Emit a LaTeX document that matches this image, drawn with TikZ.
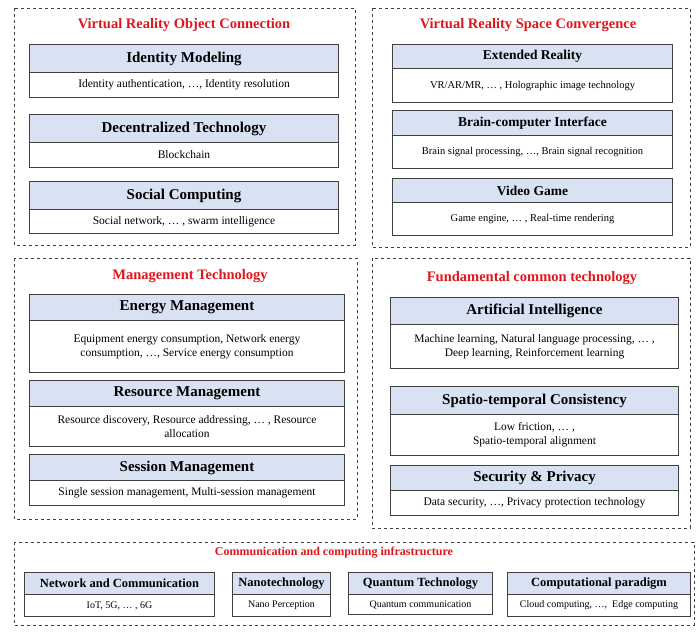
\documentclass[tikz,border=0pt]{standalone}
\usepackage{fontspec}
\setmainfont{Liberation Serif}
\definecolor{hdrblue}{HTML}{D9E2F3}
\definecolor{ttlred}{HTML}{E0161C}
\definecolor{bord}{HTML}{404040}
\tikzset{
  frame/.style={draw=bord, dashed, thick},
  hdr/.style={draw=bord, line width=1pt, fill=hdrblue, anchor=north west, inner sep=0pt, font=\bfseries},
  bdy/.style={draw=bord, line width=1pt, fill=white, anchor=north west, inner sep=0pt, align=center, font=\fontsize{11.5}{14}\selectfont},
  ttl/.style={text=ttlred, font=\bfseries\fontsize{14.5}{16}\selectfont}
}
% #1 name #2 x1 #3 x2 #4 y1 #5 ym #6 y2 #7 header #8 body #9 header size
\newcommand{\blk}[9]{%
  \node[hdr, minimum width={(#3-#2)*1pt}, minimum height={(#5-#4)*1pt}, font=\bfseries\fontsize{#9}{#9}\selectfont] (#1h) at (#2,#4) {#7};
  \node[bdy, minimum width={(#3-#2)*1pt}, minimum height={(#6-#5)*1pt}] (#1b) at (#2,#5) {#8};
}
\begin{document}
\begin{tikzpicture}[x=1pt,y=-1pt]
\useasboundingbox (0,0) rectangle (700,643);
% frames
\draw[frame] (14,8) rectangle (355,245);
\draw[frame] (372,8) rectangle (690,247);
\draw[frame] (14,258) rectangle (357,519);
\draw[frame] (372,258) rectangle (690,528);
\draw[frame] (14,542) rectangle (694,625);
\node[ttl] (t1) at (184,25) {Virtual Reality Object Connection};
\node[ttl] (t2) at (528,25) {Virtual Reality Space Convergence};
\node[ttl] (t3) at (190,276) {Management Technology};
\node[ttl] (t4) at (532,278) {Fundamental common technology};
\node[ttl, font=\bfseries\fontsize{12}{13}\selectfont] (t5) at (334,553) {Communication and computing infrastructure};
% TL
\blk{a}{29}{338}{44}{72}{97}{Identity Modeling}{Identity authentication, \dots, Identity resolution}{15}
\blk{b}{29}{338}{114}{142}{167}{Decentralized Technology}{Blockchain}{15}
\blk{c}{29}{338}{181}{209}{233}{Social Computing}{Social network, \dots\ , swarm intelligence}{15}
% TR
\blk{d}{392}{672}{44}{68}{102}{Extended Reality}{\fontsize{10.5}{12}\selectfont VR/AR/MR, \dots\ , Holographic image technology}{13.5}
\blk{e}{392}{672}{110}{135}{168}{Brain-computer Interface}{\fontsize{10.5}{12}\selectfont Brain signal processing, \dots, Brain signal recognition}{13.5}
\blk{f}{392}{672}{178}{202}{235}{Video Game}{\fontsize{10.5}{12}\selectfont Game engine, \dots\ , Real-time rendering}{13.5}
% ML
\blk{g}{29}{344}{294}{320}{372}{Energy Management}{Equipment energy consumption, Network energy\\ consumption, \dots, Service energy consumption}{15}
\blk{h}{29}{344}{380}{406}{446}{Resource Management}{Resource discovery, Resource addressing, \dots\ , Resource\\ allocation}{15}
\blk{i}{29}{344}{454}{480}{505}{Session Management}{Single session management, Multi-session management}{15}
% MR
\blk{j}{390}{678}{297}{324}{368}{Artificial Intelligence}{Machine learning, Natural language processing, \dots\ ,\\ Deep learning, Reinforcement learning}{15}
\blk{k}{390}{678}{386}{414}{455}{Spatio-temporal Consistency}{Low friction, \dots\ ,\\ Spatio-temporal alignment}{15}
\blk{l}{390}{678}{465}{490}{515}{Security \& Privacy}{Data security, \dots, Privacy protection technology}{15}
% bottom
\blk{m}{24}{214}{572}{594}{616}{Network and Communication}{\fontsize{10}{11}\selectfont IoT, 5G, \dots\ , 6G}{12.5}
\blk{n}{232}{330}{572}{594}{616}{Nanotechnology}{\fontsize{10}{11}\selectfont Nano Perception}{12.5}
\blk{o}{348}{492}{572}{594}{614}{Quantum Technology}{\fontsize{10}{11}\selectfont Quantum communication}{12.5}
\blk{p}{507}{690}{572}{594}{616}{Computational paradigm}{\fontsize{10}{11}\selectfont Cloud computing, \dots,\ \ Edge computing}{12.5}
\end{tikzpicture}
\end{document}
